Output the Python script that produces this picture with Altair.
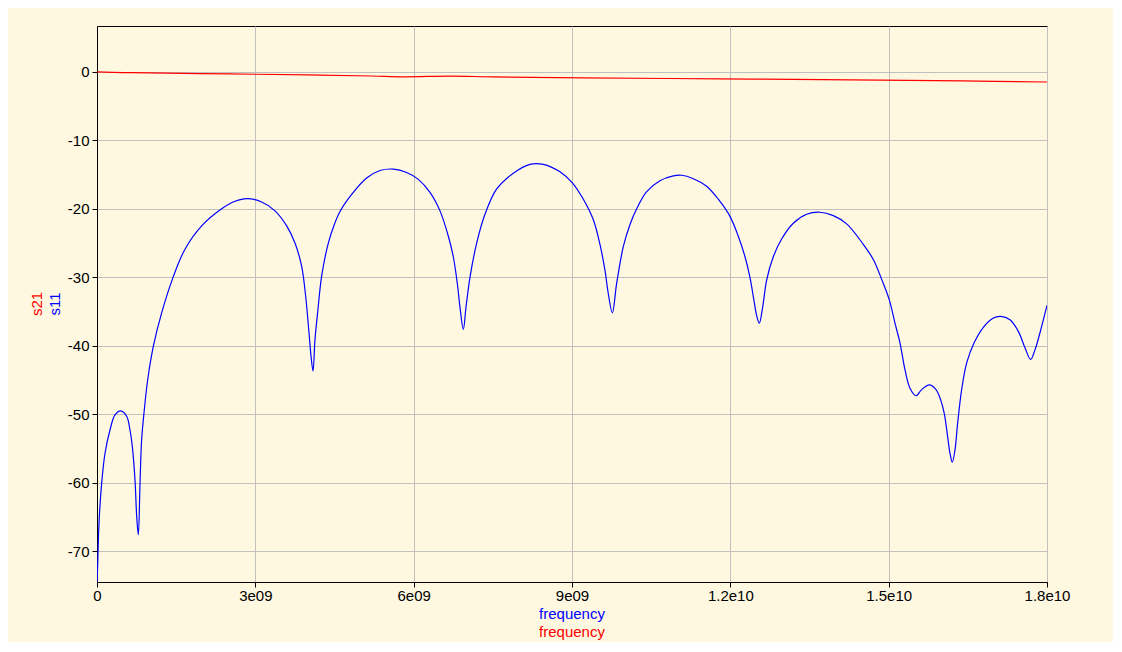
import altair as alt
import pandas as pd

# ---- data ----
freq_s11_ghz = [
    0.0, 0.01, 0.038, 0.088, 0.152, 0.246, 0.341, 0.448, 0.562, 0.625, 0.669, 0.72, 0.752, 0.783,
    0.815, 0.846, 0.897, 0.96, 1.067, 1.225, 1.446, 1.667, 1.983, 2.362, 2.615, 2.836, 3.12,
    3.373, 3.594, 3.751, 3.878, 3.954, 4.017, 4.055, 4.093, 4.13, 4.18, 4.257, 4.383, 4.497,
    4.604, 4.825, 5.109, 5.362, 5.615, 5.867, 6.088, 6.309, 6.499, 6.657, 6.751, 6.827, 6.878,
    6.941, 6.991, 7.067, 7.194, 7.351, 7.573, 7.888, 8.204, 8.457, 8.772, 9.006, 9.215, 9.404,
    9.53, 9.625, 9.688, 9.764, 9.846, 9.973, 10.099, 10.225, 10.415, 10.667, 10.92, 11.078,
    11.299, 11.551, 11.772, 11.993, 12.151, 12.278, 12.372, 12.448, 12.499, 12.549, 12.612,
    12.688, 12.814, 12.972, 13.193, 13.446, 13.699, 13.951, 14.204, 14.52, 14.709, 14.867,
    15.012, 15.12, 15.215, 15.309, 15.404, 15.518, 15.625, 15.77, 15.897, 15.985, 16.054,
    16.118, 16.162, 16.206, 16.257, 16.307, 16.383, 16.478, 16.617, 16.794, 16.983, 17.122,
    17.299, 17.457, 17.583, 17.69, 17.772, 17.867, 18.0,
]
s11_db = [
    -74.5, -72.7, -65.9, -60.1, -55.7, -52.3, -50.1, -49.5, -50.3, -52.3, -54.7, -59.6, -64.9, -67.6,
    -60.1, -53.7, -49.3, -45.0, -40.1, -35.2, -29.9, -25.9, -22.5, -20.0, -18.9, -18.5, -19.0,
    -20.3, -22.5, -25.0, -28.4, -32.8, -38.1, -41.5, -43.7, -39.1, -35.2, -29.8, -25.0, -22.3,
    -20.4, -17.9, -15.5, -14.4, -14.2, -14.7, -15.7, -17.6, -20.3, -24.0, -27.0, -30.9, -34.4,
    -37.6, -34.4, -30.0, -25.0, -20.8, -17.1, -14.8, -13.5, -13.5, -14.6, -16.2, -18.6, -21.6,
    -25.2, -29.0, -32.4, -35.2, -30.9, -25.5, -22.3, -20.0, -17.5, -15.9, -15.2, -15.1,
    -15.6, -16.7, -18.6, -21.1, -24.0, -27.0, -30.0, -33.4, -35.6, -36.7, -34.4,
    -30.4, -27.0, -24.4, -22.1, -20.8, -20.5, -21.0, -22.2, -25.2, -27.4, -30.3,
    -33.3, -36.7, -39.6, -43.5, -46.2, -47.3, -46.4, -45.7, -46.4, -47.9, -49.9,
    -53.3, -55.7, -57.0, -55.2, -51.3, -46.4, -42.5, -39.6, -37.3, -35.95, -35.7,
    -36.2, -37.9, -40.3, -42.0, -40.6, -38.1, -34.1,
]
freq_s21_ghz = [0.0, 0.5, 1.0, 2.5, 4.0, 5.2, 5.8, 6.7, 7.5, 9.2, 11.8, 14.3, 16.4, 18.0]
s21_db = [0.0, -0.1, -0.15, -0.3, -0.45, -0.6, -0.72, -0.62, -0.73, -0.88, -1.02, -1.17, -1.32, -1.48]

series_names = ["s11", "s21"]
series_colors = ["#0000FF", "#FF0000"]

x_tick_values = [0, 3e9, 6e9, 9e9, 1.2e10, 1.5e10, 1.8e10]
x_tick_labels = ["0", "3e09", "6e09", "9e09", "1.2e10", "1.5e10", "1.8e10"]
y_tick_values = [-70, -60, -50, -40, -30, -20, -10, 0]
y_domain = [-74.5, 6.7]
x_domain = [0, 1.8e10]

# ---- tables ----
df = pd.concat([
    pd.DataFrame({"freq": [f * 1e9 for f in freq_s11_ghz], "db": s11_db, "series": "s11"}),
    pd.DataFrame({"freq": [f * 1e9 for f in freq_s21_ghz], "db": s21_db, "series": "s21"}),
], ignore_index=True)

FONT = "Liberation Sans"
BG = "#FEF8E1"

label_expr = "[" + ",".join("'%s'" % l for l in x_tick_labels) + "][round(datum.value/3e9)]"

x_enc = alt.X(
    "freq:Q",
    scale=alt.Scale(domain=x_domain, nice=False, zero=False),
    axis=alt.Axis(
        values=x_tick_values, labelExpr=label_expr, title=None,
        grid=True, gridColor="#C0C0C0", gridWidth=1,
        domainColor="black", tickColor="black", tickSize=5, labelPadding=1,
        labelFont=FONT, labelFontSize=15, labelColor="black",
        labelOverlap=False, labelBound=False, labelFlush=False,
    ),
)
y_enc = alt.Y(
    "db:Q",
    scale=alt.Scale(domain=y_domain, nice=False, zero=False),
    axis=alt.Axis(
        values=y_tick_values, title=None, labelExpr="'' + datum.value",
        grid=True, gridColor="#C0C0C0", gridWidth=1,
        domainColor="black", tickColor="black", tickSize=5, labelPadding=3,
        labelFont=FONT, labelFontSize=15, labelColor="black",
        labelOverlap=False, labelBound=False,
    ),
)

lines = alt.Chart(df).mark_line(strokeWidth=1.2, interpolate="catmull-rom", clip=True).encode(
    x=x_enc,
    y=y_enc,
    color=alt.Color("series:N", scale=alt.Scale(domain=series_names, range=series_colors), legend=None),
    order=alt.Order("freq:Q"),
)


def title_text(label, color, x, y, angle=0):
    return alt.Chart(pd.DataFrame({"label": [label]})).mark_text(
        font=FONT, fontSize=15, color=color, align="center", baseline="middle", angle=angle
    ).encode(x=alt.value(x), y=alt.value(y), text="label:N")


titles = [
    title_text("frequency", "#0000FF", 475, 588),
    title_text("frequency", "#FF0000", 475, 605.5),
    title_text("s21", "#FF0000", -60, 278, angle=270),
    title_text("s11", "#0000FF", -42, 278, angle=270),
]

chart = alt.layer(lines, *titles).properties(
    width=950,
    height=556,
    background=BG,
    autosize=alt.AutoSizeParams(type="none"),
    padding={"left": 89, "top": 18, "right": 66, "bottom": 60},
).configure_view(stroke="black", strokeWidth=1)

chart.save("out.html", embed_options={"renderer": "svg", "actions": False})
